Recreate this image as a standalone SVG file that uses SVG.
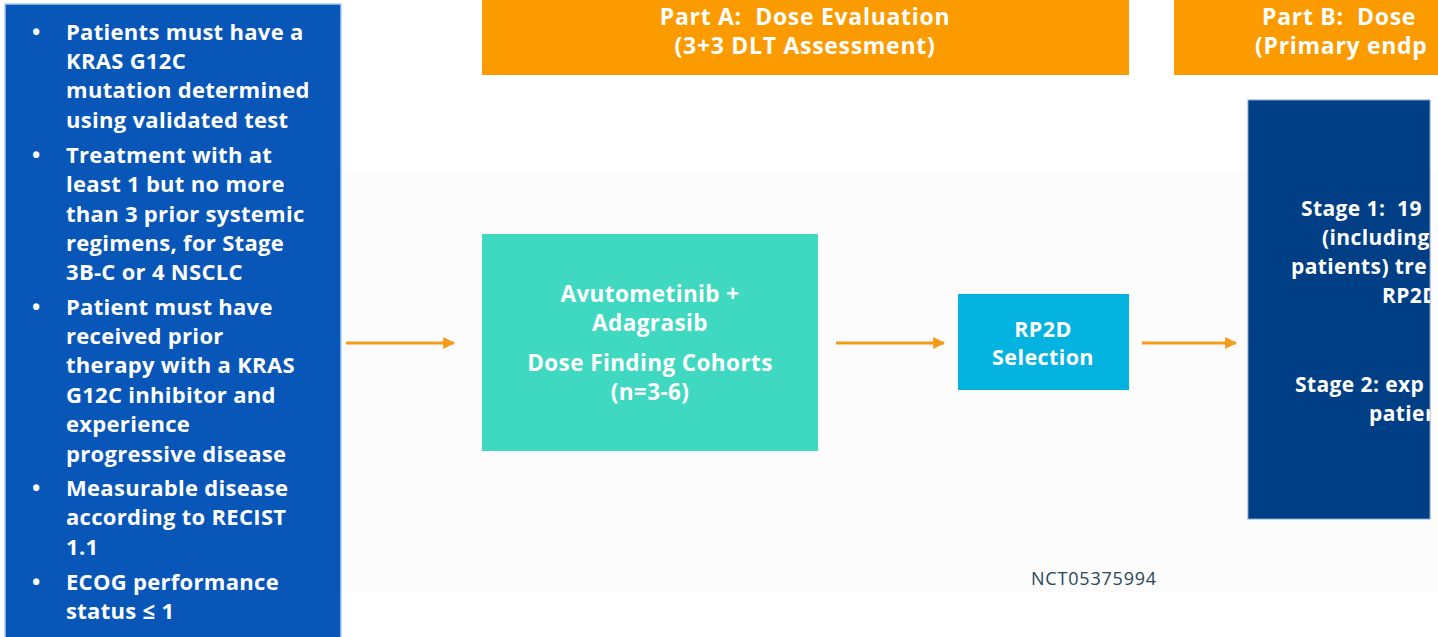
<svg xmlns="http://www.w3.org/2000/svg" width="1438" height="637" viewBox="0 0 1438 637">
  <style>
    text { white-space: pre; }
    .b { font-family: "Open Sans", Lato, "Liberation Sans", sans-serif; font-weight: bold; fill: #ffffff; }
    .crit { font-size: 22px; letter-spacing: 0.3px; }
    .hdr { font-size: 23px; letter-spacing: 0.7px; text-anchor: middle; }
    .hdrB { font-size: 23px; letter-spacing: 0.7px; }
    .mid { font-size: 22.5px; letter-spacing: 0.4px; text-anchor: middle; }
    .stage { font-size: 21px; letter-spacing: 0.4px; }
    .note { font-family: "Open Sans", Lato, "Liberation Sans", sans-serif; font-size: 18px; letter-spacing: 0.8px; fill: #27475a; }
    .conn { stroke: #f59b1a; stroke-width: 3; fill: none; marker-end: url(#arrow); }
  </style>
  <defs>
    <marker id="arrow" viewBox="0 0 10 10" refX="9" refY="5" markerWidth="4" markerHeight="4" orient="auto" markerUnits="strokeWidth">
      <path d="M0,0 L10,5 L0,10 Z" fill="#f59b1a"/>
    </marker>
    <clipPath id="partBClip"><rect x="1248" y="100" width="182" height="420"/></clipPath>
    <clipPath id="partBHdrClip"><rect x="1174" y="0" width="264" height="76"/></clipPath>
  </defs>

  <rect width="1438" height="637" fill="#ffffff"/>
  <rect x="341" y="172" width="1097" height="420" fill="#fcfcfc"/>

  <!-- Eligibility criteria -->
  <g id="criteria">
    <rect x="5" y="4" width="336" height="640" fill="#0756b8" stroke="#a9cdf4" stroke-width="1.5"/>
    <g class="b crit">
      <text x="32" y="40">•</text>
      <text x="66" y="40">Patients must have a</text>
      <text x="66" y="69">KRAS G12C</text>
      <text x="66" y="98">mutation determined</text>
      <text x="66" y="128">using validated test</text>
      <text x="32" y="163">•</text>
      <text x="66" y="163">Treatment with at</text>
      <text x="66" y="192">least 1 but no more</text>
      <text x="66" y="222">than 3 prior systemic</text>
      <text x="66" y="251">regimens, for Stage</text>
      <text x="66" y="280">3B-C or 4 NSCLC</text>
      <text x="32" y="315">•</text>
      <text x="66" y="315">Patient must have</text>
      <text x="66" y="344">received prior</text>
      <text x="66" y="373">therapy with a KRAS</text>
      <text x="66" y="403">G12C inhibitor and</text>
      <text x="66" y="432">experience</text>
      <text x="66" y="462">progressive disease</text>
      <text x="32" y="496">•</text>
      <text x="66" y="496">Measurable disease</text>
      <text x="66" y="525">according to RECIST</text>
      <text x="66" y="555">1.1</text>
      <text x="32" y="590">•</text>
      <text x="66" y="590">ECOG performance</text>
      <text x="66" y="619">status ≤ 1</text>
    </g>
  </g>

  <!-- Part headers -->
  <g id="partA-header">
    <rect x="482" y="0" width="647" height="75" fill="#fb9b00"/>
    <text class="b hdr" x="805" y="25">Part A:  Dose Evaluation</text>
    <text class="b hdr" x="805" y="54">(3+3 DLT Assessment)</text>
  </g>
  <g id="partB-header">
    <rect x="1174" y="0" width="264" height="75" fill="#fb9b00"/>
    <g clip-path="url(#partBHdrClip)">
      <text class="b hdrB" x="1262" y="25">Part B:  Dose</text>
      <text class="b hdrB" x="1255" y="54">(Primary endp</text>
    </g>
  </g>

  <!-- Dose finding -->
  <g id="dose-finding">
    <rect x="482" y="234" width="336" height="217" fill="#3fd9c1"/>
    <text class="b mid" x="650" y="302">Avutometinib +</text>
    <text class="b mid" x="650" y="331">Adagrasib</text>
    <text class="b mid" x="650" y="371">Dose Finding Cohorts</text>
    <text class="b mid" x="650" y="400">(n=3-6)</text>
  </g>

  <!-- RP2D selection -->
  <g id="rp2d">
    <rect x="958" y="294" width="171" height="96" fill="#04b3df"/>
    <text class="b mid" style="font-size:21.5px" x="1043" y="337">RP2D</text>
    <text class="b mid" style="font-size:21.5px" x="1043" y="365">Selection</text>
  </g>

  <!-- Part B stages -->
  <g id="stages">
    <rect x="1248" y="100" width="182" height="419" fill="#003e85" stroke="#7fa3cf" stroke-width="1"/>
    <g class="b stage" clip-path="url(#partBClip)">
      <text x="1301" y="216">Stage 1:  19</text>
      <text x="1322" y="245">(including</text>
      <text x="1291" y="274">patients) tre</text>
      <text x="1382" y="303">RP2D</text>
      <text x="1295" y="392">Stage 2: exp</text>
      <text x="1369" y="421">patien</text>
    </g>
  </g>

  <!-- Connectors -->
  <g id="connectors">
    <line class="conn" x1="346" y1="343" x2="454" y2="343"/>
    <line class="conn" x1="836" y1="343" x2="944" y2="343"/>
    <line class="conn" x1="1142" y1="343" x2="1236" y2="343"/>
  </g>

  <text class="note" x="1031" y="585">NCT05375994</text>
</svg>
